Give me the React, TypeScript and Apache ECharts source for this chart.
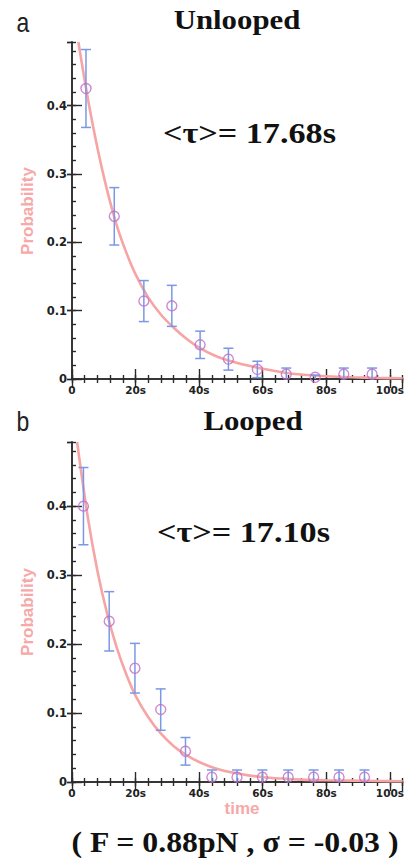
import React, { useEffect, useRef } from "react";
import * as echarts from "echarts";

const W = 407;
const H = 858;

// ---- Panel a: Unlooped ----
const unloopedTime = [4.4, 13.3, 22.6, 31.4, 40.3, 49.2, 58.3, 67.4, 76.5, 85.5, 94.4];
const unloopedProb = [0.425, 0.238, 0.114, 0.107, 0.05, 0.029, 0.014, 0.007, 0.0025, 0.007, 0.007];
const unloopedErr = [0.057, 0.042, 0.03, 0.03, 0.02, 0.016, 0.012, 0.009, 0.003, 0.009, 0.009];
const unloopedFitTime = [2, 5, 8, 11, 14, 17, 20, 24, 28, 32, 36, 40, 45, 50, 55, 60, 66, 72, 80, 88, 96, 104];
const unloopedFitProb = [0.493, 0.41, 0.338, 0.277, 0.226, 0.186, 0.153, 0.119, 0.094, 0.075, 0.059, 0.046, 0.034, 0.026, 0.02, 0.015, 0.01, 0.0065, 0.004, 0.0025, 0.0015, 0.001];

// ---- Panel b: Looped ----
const loopedTime = [3.6, 11.7, 19.8, 27.9, 35.7, 44.0, 51.9, 59.9, 68.0, 76.0, 84.0, 92.0];
const loopedProb = [0.4, 0.233, 0.165, 0.105, 0.0445, 0.007, 0.007, 0.007, 0.007, 0.007, 0.007, 0.007];
const loopedErr = [0.056, 0.043, 0.036, 0.03, 0.02, 0.0104, 0.0104, 0.0104, 0.0104, 0.0104, 0.0104, 0.0104];
const loopedFitTime = [1.6, 5, 8, 11, 14, 17, 20, 24, 28, 32, 36, 40, 45, 50, 55, 60, 66, 72, 80, 88, 96, 104];
const loopedFitProb = [0.493, 0.383, 0.306, 0.245, 0.196, 0.157, 0.125, 0.094, 0.07, 0.052, 0.039, 0.029, 0.02, 0.014, 0.01, 0.007, 0.005, 0.0035, 0.0025, 0.002, 0.0015, 0.001];

// ---- Axes ----
const X_MIN = 0;
const X_MAX = 104;
const X_MAJOR = 20;
const X_MINOR = 4;
const Y_MIN = 0;
const Y_MAX = 0.493;
const Y_MAJOR = 0.1;
const Y_MINOR = 0.02;
const xTickFormat = (v: number) => (v === 0 ? "0" : `${v}s`);
const yTickFormat = (v: number) => (v === 0 ? "0" : v.toFixed(1));

const titles = ["Unlooped", "Looped"];
const panelLetters = ["a", "b"];
const tauTexts = ["<τ>= 17.68s", "<τ>= 17.10s"];
const footer = "( F = 0.88pN , σ = -0.03 )";

const AXIS_COLOR = "#2a2a2a";
const FIT_COLOR = "#f7a4a4";
const ERR_COLOR = "#7a98e4";
const MARK_COLOR = "#c26cc6";
const NAME_COLOR = "#f7a8a8";
const LABEL_FONT = "DejaVu Sans";

const grids = [
  { left: 72, top: 42, width: 333, height: 337 },
  { left: 72, top: 442, width: 333, height: 340 },
];

function axesFor(g: number) {
  const line = { show: true, lineStyle: { color: AXIS_COLOR, width: 1.5 } };
  const noLine = { show: false };
  const hidden = { show: false };
  const tick = (len: number, inside = true) => ({
    show: true,
    inside,
    length: len,
    lineStyle: { color: AXIS_COLOR, width: 1.4 },
  });
  const x = [
    {
      gridIndex: g, type: "value", min: X_MIN, max: X_MAX, interval: X_MAJOR, position: "bottom",
      axisLine: line, axisTick: tick(10), splitLine: hidden,
      axisLabel: {
        show: true, formatter: xTickFormat, showMaxLabel: false, margin: 5,
        fontFamily: LABEL_FONT, fontWeight: "bold", fontSize: 10.5, color: "#222",
      },
    },
    {
      gridIndex: g, type: "value", min: X_MIN, max: X_MAX, interval: X_MINOR, position: "bottom",
      axisLine: noLine, axisTick: tick(4), axisLabel: hidden, splitLine: hidden,
    },
    {
      gridIndex: g, type: "value", min: X_MIN, max: X_MAX, interval: X_MAJOR, position: "top",
      axisLine: line, axisTick: tick(9), axisLabel: hidden, splitLine: hidden,
    },
    {
      gridIndex: g, type: "value", min: X_MIN, max: X_MAX, interval: X_MINOR, position: "top",
      axisLine: noLine, axisTick: tick(4), axisLabel: hidden, splitLine: hidden,
    },
  ];
  const y = [
    {
      gridIndex: g, type: "value", min: Y_MIN, max: Y_MAX, interval: Y_MAJOR, position: "left",
      axisLine: line, axisTick: tick(10), splitLine: hidden,
      axisLabel: {
        show: true, formatter: yTickFormat, showMaxLabel: false, margin: 5,
        fontFamily: LABEL_FONT, fontWeight: "bold", fontSize: 11.5, color: "#222",
      },
    },
    {
      gridIndex: g, type: "value", min: Y_MIN, max: Y_MAX, interval: Y_MAJOR, position: "left",
      axisLine: noLine, axisTick: tick(5, false), axisLabel: hidden, splitLine: hidden,
    },
    {
      gridIndex: g, type: "value", min: Y_MIN, max: Y_MAX, interval: Y_MINOR, position: "left",
      axisLine: noLine, axisTick: tick(4), axisLabel: hidden, splitLine: hidden,
    },
    {
      gridIndex: g, type: "value", min: Y_MIN, max: Y_MAX, interval: Y_MAJOR, position: "right",
      axisLine: line, axisTick: tick(5), axisLabel: hidden, splitLine: hidden,
    },
  ];
  return { x, y };
}

function seriesFor(
  g: number,
  t: number[],
  p: number[],
  e: number[],
  ft: number[],
  fp: number[]
) {
  const xi = g * 4;
  const yi = g * 4;
  return [
    {
      type: "line",
      xAxisIndex: xi,
      yAxisIndex: yi,
      data: ft.map((v, i) => [v, fp[i]]),
      smooth: 0.3,
      showSymbol: false,
      symbol: "none",
      clip: true,
      lineStyle: { color: FIT_COLOR, width: 2.6 },
      z: 2,
    },
    {
      type: "custom",
      xAxisIndex: xi,
      yAxisIndex: yi,
      data: t.map((v, i) => [v, p[i], e[i]]),
      encode: { x: 0, y: 1 },
      clip: true,
      renderItem: (params: any, api: any) => {
        const xv = api.value(0);
        const yv = api.value(1);
        const ev = api.value(2);
        const hiY = yv + ev;
        const loY = Math.max(0, yv - ev);
        const top = api.coord([xv, hiY]);
        const bot = api.coord([xv, loY]);
        const hw = 5;
        const style = { stroke: ERR_COLOR, lineWidth: 1.5 };
        const children: any[] = [
          { type: "line", shape: { x1: top[0], y1: top[1], x2: bot[0], y2: bot[1] }, style },
          { type: "line", shape: { x1: top[0] - hw, y1: top[1], x2: top[0] + hw, y2: top[1] }, style },
        ];
        if (yv - ev > 0) {
          children.push({
            type: "line",
            shape: { x1: bot[0] - hw, y1: bot[1], x2: bot[0] + hw, y2: bot[1] },
            style,
          });
        }
        return { type: "group", children };
      },
      z: 3,
    },
    {
      type: "scatter",
      xAxisIndex: xi,
      yAxisIndex: yi,
      data: t.map((v, i) => [v, p[i]]),
      symbol: "circle",
      symbolSize: 10,
      itemStyle: { color: "rgba(255,255,255,0)", borderColor: MARK_COLOR, borderWidth: 1.4 },
      z: 4,
    },
  ];
}

function text(
  str: string,
  x: number,
  y: number,
  opts: {
    size: number; family: string; weight?: string; color?: string;
    align?: string; scaleX?: number; scaleY?: number; rotation?: number;
  }
) {
  return {
    type: "text",
    x,
    y,
    scaleX: opts.scaleX ?? 1,
    scaleY: opts.scaleY ?? 1,
    rotation: opts.rotation ?? 0,
    style: {
      text: str,
      fontSize: opts.size,
      fontFamily: opts.family,
      fontWeight: opts.weight ?? "normal",
      fill: opts.color ?? "#111",
      align: opts.align ?? "center",
      verticalAlign: "middle",
    },
    z: 10,
  };
}

function buildOption() {
  const a = axesFor(0);
  const b = axesFor(1);
  const serif = "Liberation Serif";
  const sans = "Liberation Sans";
  const graphic = [
    text(panelLetters[0], 23, 22, { size: 28, family: sans, scaleX: 0.82, color: "#222" }),
    text(panelLetters[1], 23, 421, { size: 28, family: sans, scaleX: 0.82, color: "#222" }),
    text(titles[0], 237, 19, { size: 28, family: serif, weight: "bold", scaleX: 1.1 }),
    text(titles[1], 253, 420, { size: 28, family: serif, weight: "bold", scaleX: 1.1 }),
    text(tauTexts[0], 163, 133, { size: 30, family: serif, weight: "bold", align: "left", scaleX: 1.14 }),
    text(tauTexts[1], 157, 532, { size: 30, family: serif, weight: "bold", align: "left", scaleX: 1.14 }),
    text("Probability", 27, 211, { size: 17, family: sans, weight: "bold", color: NAME_COLOR, rotation: Math.PI / 2 }),
    text("Probability", 27, 612, { size: 17, family: sans, weight: "bold", color: NAME_COLOR, rotation: Math.PI / 2 }),
    text("time", 242, 808, { size: 17, family: sans, weight: "bold", color: NAME_COLOR }),
    text(footer, 235, 842, { size: 30, family: serif, weight: "bold", scaleX: 1.06 }),
  ];
  return {
    animation: false,
    backgroundColor: "#ffffff",
    grid: grids,
    xAxis: [...a.x, ...b.x],
    yAxis: [...a.y, ...b.y],
    series: [
      ...seriesFor(0, unloopedTime, unloopedProb, unloopedErr, unloopedFitTime, unloopedFitProb),
      ...seriesFor(1, loopedTime, loopedProb, loopedErr, loopedFitTime, loopedFitProb),
    ],
    graphic,
  };
}

export default function App() {
  const ref = useRef<HTMLDivElement>(null);
  useEffect(() => {
    document.body.style.margin = "0";
    const chart = echarts.init(ref.current as HTMLDivElement, null, {
      renderer: "svg",
      width: W,
      height: H,
    });
    chart.setOption(buildOption() as any);
    return () => chart.dispose();
  }, []);
  return <div ref={ref} style={{ width: W, height: H }} />;
}
